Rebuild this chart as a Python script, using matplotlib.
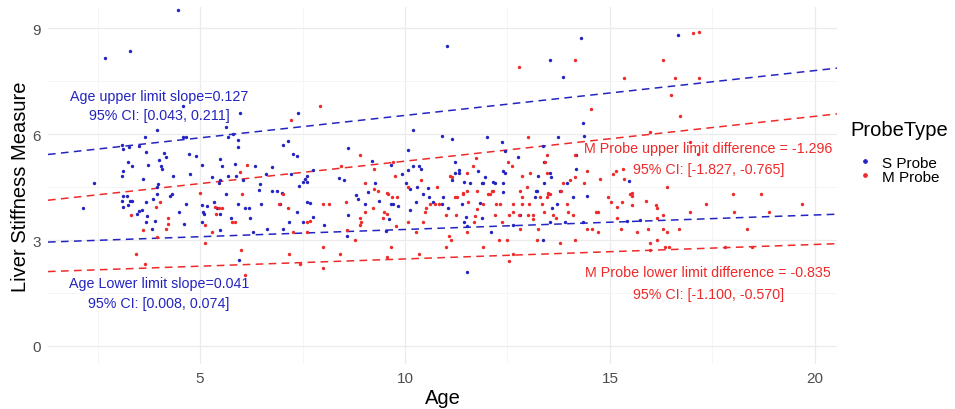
import matplotlib
matplotlib.use("Agg")
import matplotlib.pyplot as plt
from matplotlib.lines import Line2D

# S Probe points (Age, Liver Stiffness Measure)
s_age = [4.46, 2.68, 3.29, 4.59, 11.02, 13.54, 14.29, 13.85, 16.66, 14.34, 14.37, 10.20, 10.90,
         11.15, 12.00, 13.73, 12.37, 8.61, 10.07, 13.37, 12.76, 12.44, 9.20, 11.22, 9.66, 10.20,
         10.34, 10.39, 10.07, 9.93, 11.32, 11.22, 11.32, 11.78, 11.95, 12.39, 12.44, 13.24, 13.39,
         13.54, 13.56, 14.17, 14.17, 8.39, 8.51, 10.02, 10.12, 10.29, 10.56, 11.15, 11.44, 11.59,
         11.88, 11.90, 12.15, 12.20, 12.39, 9.27, 13.39, 13.95, 13.22, 9.10, 13.78, 7.76, 7.61,
         7.51, 15.46, 7.39, 5.98, 3.95, 5.63, 3.66, 4.59, 4.66, 5.68, 5.80, 5.93, 3.10, 3.27, 3.51,
         3.12, 5.93, 7.02, 7.15, 7.27, 7.37, 3.68, 4.12, 4.73, 4.90, 4.17, 4.00, 3.24, 3.34, 4.05,
         3.73, 5.05, 5.49, 5.54, 5.85, 6.34, 6.76, 3.12, 4.07, 3.10, 3.61, 3.98, 3.95, 2.41, 4.34,
         4.76, 5.29, 5.49, 5.46, 5.68, 5.88, 6.05, 6.46, 6.61, 7.22, 7.41, 7.61, 7.56, 7.00, 6.44,
         2.15, 3.12, 3.22, 3.29, 3.34, 3.10, 3.12, 3.24, 3.46, 3.51, 3.59, 3.68, 3.71, 3.85, 3.95,
         3.68, 3.83, 3.90, 4.27, 4.32, 4.49, 4.66, 4.61, 5.05, 5.05, 5.10, 5.07, 5.17, 5.34, 5.41,
         5.49, 5.49, 5.63, 5.76, 5.93, 6.10, 6.20, 6.22, 6.29, 6.49, 6.63, 6.76, 6.88, 6.95, 7.17,
         7.02, 7.37, 7.51, 7.61, 7.68, 7.76, 5.95, 8.80, 8.85, 9.02, 9.37, 9.66, 9.71, 9.83, 9.61,
         8.61, 8.02, 8.59, 9.54, 10.12, 10.27, 10.44, 10.59, 10.68, 10.90, 10.93, 11.05, 11.39,
         11.49, 11.44, 11.51, 11.83, 11.88, 12.10, 12.39, 12.63, 12.80, 13.17, 13.20, 13.37, 13.59,
         13.71, 13.54, 14.10, 13.90, 11.51, 14.44, 14.34, 15.41, 15.73]
s_lsm = [9.51, 8.15, 8.35, 6.79, 8.49, 8.09, 8.72, 7.61, 8.80, 6.31, 5.94, 6.11, 5.94,
         5.86, 5.92, 5.92, 5.77, 5.60, 5.55, 5.66, 5.35, 5.52, 5.24, 5.21, 5.12, 5.09,
         5.09, 5.01, 4.98, 4.87, 4.98, 4.90, 4.90, 4.95, 4.78, 4.95, 4.90, 4.81, 5.21,
         4.90, 4.78, 5.01, 5.41, 4.76, 4.70, 4.61, 4.44, 4.50, 4.47, 4.70, 4.64, 4.61,
         4.61, 4.61, 4.64, 4.61, 4.61, 4.61, 4.61, 4.61, 4.39, 4.36, 4.39, 4.98, 4.81,
         4.64, 4.67, 6.59, 6.59, 6.11, 6.20, 5.92, 5.92, 5.92, 5.92, 6.00, 5.83, 5.69, 5.63, 5.66,
         5.58, 5.63, 5.69, 5.80, 5.43, 5.38, 5.49, 5.46, 5.43, 5.38, 5.35, 5.26, 5.21, 5.09, 5.09,
         5.12, 5.12, 5.29, 5.09, 5.15, 5.09, 5.07, 4.95, 5.01, 4.81, 4.73, 4.59, 4.50, 4.61, 4.81,
         4.87, 4.78, 4.70, 4.61, 4.81, 4.81, 4.70, 4.59, 4.87, 4.87, 4.53, 4.64, 4.73, 4.33, 4.42,
         3.91, 4.25, 4.25, 4.10, 4.10, 4.10, 3.93, 3.99, 3.74, 3.82, 3.85, 4.08, 3.68, 4.16, 4.30,
         3.51, 3.31, 3.54, 4.25, 4.30, 3.79, 4.02, 3.45, 3.99, 3.51, 3.74, 3.79, 3.96, 4.08, 3.91,
         3.74, 3.28, 4.30, 3.62, 4.02, 3.91, 3.91, 3.62, 3.23, 4.02, 3.31, 4.39, 4.39, 4.02, 3.51,
         3.31, 3.79, 3.51, 4.08, 4.05, 3.65, 2.43, 4.27, 4.16, 4.02, 4.10, 4.02, 4.02, 3.96, 3.59,
         3.71, 3.42, 3.11, 3.26, 3.85, 4.08, 4.30, 4.22, 4.08, 4.02, 4.22, 3.91, 4.02,
         3.65, 3.51, 3.40, 4.05, 3.62, 3.23, 4.36, 3.42, 3.71, 4.22, 4.39, 3.00, 3.91,
         4.02, 3.51, 4.22, 3.51, 2.09, 4.25, 3.51, 3.54, 3.57]

# M Probe points (Age, Liver Stiffness Measure)
m_age = [7.93, 12.78, 14.15, 14.54, 13.00, 8.90, 13.46, 13.41, 11.73, 11.66, 8.44, 9.71, 17.02,
         17.17, 16.29, 15.34, 16.59, 17.17, 16.49, 16.71, 15.98, 16.95, 17.15, 14.44, 14.76, 15.07,
         15.15, 15.32, 15.34, 16.39, 14.37, 15.54, 14.66, 14.71, 14.95, 15.02, 15.29, 15.17, 15.49,
         15.54, 15.54, 15.88, 15.17, 16.12, 16.15, 16.29, 16.15, 17.34, 16.95, 18.00, 18.68, 18.02,
         18.88, 19.68, 18.34, 14.44, 14.56, 14.71, 15.27, 15.66, 15.93, 16.29, 16.39, 16.68, 15.98,
         16.15, 15.98, 16.34, 16.44, 17.80, 18.46, 7.22, 6.15, 5.98, 5.00, 6.02, 7.02, 3.32, 3.93,
         4.02, 3.61, 4.17, 4.22, 4.22, 3.95, 5.12, 5.29, 5.37, 5.46, 5.39, 5.54, 5.78, 5.85, 6.93,
         7.15, 7.61, 7.68, 7.61, 7.27, 5.12, 3.44, 6.00, 7.17, 3.66, 7.44, 6.10, 8.00, 8.15, 8.56,
         9.02, 9.22, 8.90, 8.93, 8.90, 9.49, 9.56, 9.46, 9.78, 9.59, 9.68, 9.80, 9.24, 10.07, 10.27,
         10.44, 10.49, 10.51, 10.61, 10.73, 10.83, 11.00, 11.24, 11.22, 11.27, 11.41, 11.54, 11.51,
         11.71, 11.68, 11.76, 11.90, 12.02, 12.07, 12.15, 12.22, 12.32, 12.20, 12.37, 12.29, 12.49,
         11.07, 11.12, 11.00, 11.90, 12.63, 12.54, 12.63, 12.78, 12.80, 12.85, 12.85, 13.00, 13.02,
         13.12, 13.12, 12.80, 13.24, 13.29, 13.34, 13.46, 13.49, 13.54, 13.39, 13.61, 13.68, 13.95,
         13.98, 14.10, 13.80, 13.22, 13.78, 14.15, 12.63, 12.54, 8.00, 8.41, 10.34, 9.66, 9.56, 8.00,
         8.78, 8.59, 14.15, 12.51, 12.61, 9.24, 11.10, 11.51, 12.85, 13.05, 13.46, 14.15, 9.76,
         10.39, 11.15, 9.02, 10.78, 10.07, 12.98, 13.85, 14.02, 11.51, 11.76, 12.12, 9.34, 9.56,
         11.41, 13.49]
m_lsm = [6.79, 7.90, 8.09, 6.71, 5.92, 5.41, 5.41, 5.21, 5.32, 5.09, 5.09, 5.21, 8.86,
         8.89, 8.09, 7.59, 7.59, 7.59, 7.10, 6.51, 6.06, 5.77, 5.43, 4.95, 4.73, 4.87,
         4.95, 5.01, 4.73, 4.50, 4.61, 4.33, 3.79, 3.79, 4.22, 4.08, 4.08, 3.93, 4.30,
         4.25, 3.99, 4.10, 3.62, 3.99, 3.91, 3.71, 3.62, 4.02, 3.79, 4.30, 4.30, 3.79,
         3.79, 4.02, 3.31, 3.31, 3.31, 3.23, 3.31, 3.23, 3.31, 3.31, 3.23, 3.31, 2.92,
         3.00, 2.72, 2.80, 2.80, 2.80, 2.80, 6.40, 5.12, 4.92, 4.33, 4.30, 4.30, 3.71, 3.93,
         4.08, 3.28, 3.31, 3.45, 3.62, 3.09, 3.42, 3.23, 3.93, 3.91, 3.74, 3.91, 3.51, 3.51, 4.02,
         3.91, 3.51, 3.54, 3.23, 3.23, 2.92, 2.60, 2.72, 2.60, 2.32, 2.32, 2.01, 4.02, 4.02, 4.08,
         3.79, 3.91, 3.62, 3.51, 3.42, 3.79, 3.74, 3.62, 3.40, 4.30, 4.22, 4.22, 4.44, 3.51, 3.23,
         3.51, 3.79, 3.91, 4.02, 4.02, 4.02, 3.71, 3.71, 4.22, 4.22, 4.30, 4.08, 3.23,
         3.68, 3.51, 3.88, 4.02, 4.30, 4.30, 4.39, 4.02, 4.02, 3.71, 3.51, 3.00, 3.00,
         3.11, 3.00, 2.80, 2.80, 4.02, 3.71, 3.79, 3.71, 4.39, 4.22, 4.02, 3.71, 4.02,
         3.71, 3.59, 3.31, 3.31, 4.22, 4.02, 4.22, 4.30, 4.30, 3.79, 3.71, 3.62, 4.02,
         3.79, 3.71, 4.39, 3.00, 2.92, 3.00, 2.60, 2.41, 2.80, 2.60, 2.60, 2.80, 2.52, 2.21,
         3.00, 3.28, 5.41, 5.21, 5.09, 5.01, 4.81, 4.90, 4.81, 4.90, 4.90, 4.78, 4.81,
         4.70, 4.78, 4.61, 4.50, 4.50, 4.50, 4.61, 4.70, 4.39, 4.39, 4.39, 4.39, 4.33,
         4.33, 4.33]

# quantile regression lines: (intercept, slope)
s_upper = (5.26, 0.127)
s_lower = (2.89, 0.041)
m_upper = (5.26 - 1.296, 0.127)
m_lower = (2.89 - 0.835, 0.041)

blue = '#2424c0'
red = '#ee2a2a'
plt.rcParams['font.family'] = ['Liberation Sans', 'DejaVu Sans']

fig = plt.figure(figsize=(9.55, 4.1), dpi=100)
ax = fig.add_axes([48 / 955, 45 / 410, 789 / 955, 357 / 410])

ax.scatter(s_age, s_lsm, s=6, color=blue, linewidths=0, zorder=3)
ax.scatter(m_age, m_lsm, s=6, color=red, linewidths=0, zorder=3)

for (a, b), c in [(s_upper, blue), (s_lower, blue), (m_upper, red), (m_lower, red)]:
    ax.axline((0, a), slope=b, color=c, lw=1.1, dashes=(5, 3.5), zorder=2)

fs = 10.3
ax.text(4.0, 7.08, 'Age upper limit slope=0.127', color=blue, fontsize=fs, ha='center', va='center')
ax.text(4.0, 6.54, '95% CI: [0.043, 0.211]', color=blue, fontsize=fs, ha='center', va='center')
ax.text(4.0, 1.78, 'Age Lower limit slope=0.041', color=blue, fontsize=fs, ha='center', va='center')
ax.text(4.0, 1.22, '95% CI: [0.008, 0.074]', color=blue, fontsize=fs, ha='center', va='center')
ax.text(17.4, 5.6, 'M Probe upper limit difference = -1.296', color=red, fontsize=fs, ha='center', va='center')
ax.text(17.4, 5.0, '95% CI: [-1.827, -0.765]', color=red, fontsize=fs, ha='center', va='center')
ax.text(17.4, 2.09, 'M Probe lower limit difference = -0.835', color=red, fontsize=fs, ha='center', va='center')
ax.text(17.4, 1.47, '95% CI: [-1.100, -0.570]', color=red, fontsize=fs, ha='center', va='center')

ax.set_xlim(1.29, 20.54)
ax.set_ylim(-0.51, 9.6)
ax.set_xticks([5, 10, 15, 20])
ax.set_yticks([0, 3, 6, 9])
ax.set_xticks([2.5, 7.5, 12.5, 17.5], minor=True)
ax.set_yticks([1.5, 4.5, 7.5], minor=True)
ax.grid(which='major', color='#ebebeb', lw=0.9)
ax.grid(which='minor', color='#f4f4f4', lw=0.6)
ax.set_axisbelow(True)
ax.tick_params(which='both', length=0, labelsize=11, labelcolor='#4d4d4d', pad=5)
for sp in ax.spines.values():
    sp.set_visible(False)
ax.set_xlabel('Age', fontsize=14.5, labelpad=2)
ax.set_ylabel('Liver Stiffness Measure', fontsize=14.5, labelpad=2)

# legend: title drawn separately to get ggplot-like spacing
fig.text(850 / 955, 1 - 131 / 410, 'ProbeType', fontsize=14.5, ha='left', va='center')
handles = [Line2D([], [], ls='none', marker='o', ms=2.4, color=blue, label='S Probe'),
           Line2D([], [], ls='none', marker='o', ms=2.4, color=red, label='M Probe')]
fig.legend(handles=handles, loc='upper left', bbox_to_anchor=(842 / 955, 1 - 143 / 410),
           frameon=False, fontsize=11, handletextpad=0.5, labelspacing=0.0, handlelength=1.2)

fig.savefig('out.png', dpi=100)
